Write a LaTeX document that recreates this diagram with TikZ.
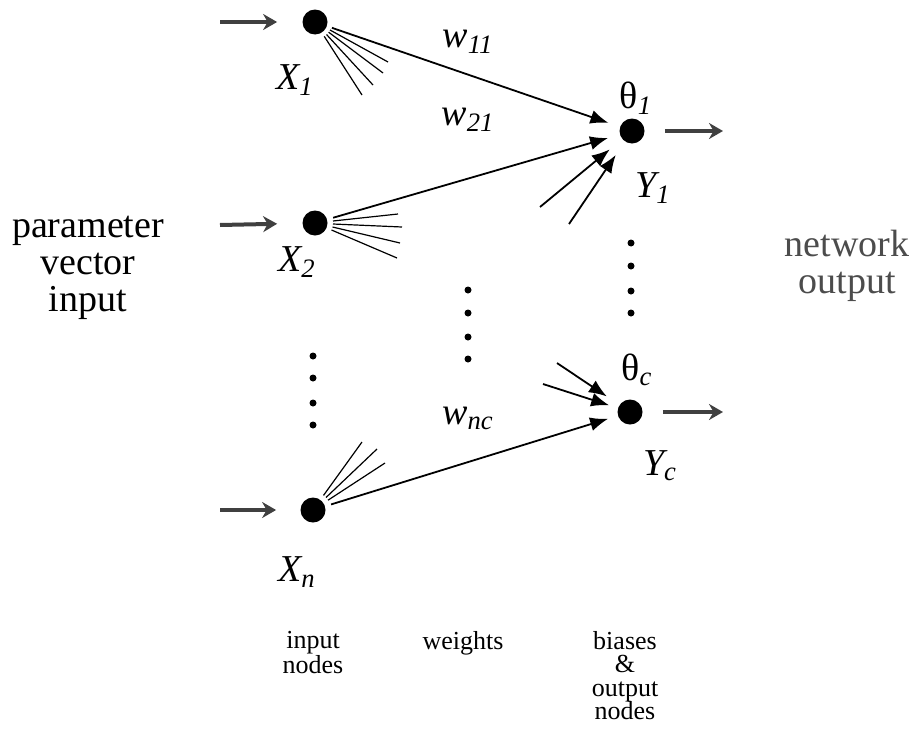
\documentclass[tikz,border=0pt]{standalone}
\usepackage{fontspec}
\setmainfont{Liberation Serif}
\usetikzlibrary{arrows.meta,calc}
\begin{document}
\begin{tikzpicture}[x=0.5pt,y=-0.5pt,
  neuron/.style={circle,fill=black,inner sep=0pt,minimum size=12.5pt},
  smalldot/.style={circle,fill=black,inner sep=0pt,minimum size=3.5pt},
  conn/.style={line width=0.9pt,-{Latex[length=9pt,width=7pt]}},
  ray/.style={line width=0.6pt},
  ioarrow/.style={line width=2pt,black!75,-{Stealth[length=7pt,width=8pt]}},
  biglabel/.style={font=\fontsize{19}{18.5}\selectfont,align=center},
  smalllabel/.style={font=\fontsize{13}{12.5}\selectfont,align=center},
  varlabel/.style={font=\fontsize{19}{19}\selectfont\itshape}]
\useasboundingbox (0,0) rectangle (914,744);
% nodes
\node[neuron] (x1) at (315,22) {};
\node[neuron] (x2) at (315,223) {};
\node[neuron] (xn) at (313,510) {};
\node[neuron] (y1) at (632,131) {};
\node[neuron] (yc) at (630,412) {};
% free ends
\coordinate (in1) at (220,22);
\coordinate (in2) at (220,225);
\coordinate (inn) at (220,510);
\coordinate (out1) at (723,131);
\coordinate (outc) at (723,412);
\coordinate (b1) at (540,207);
\coordinate (b2) at (569,224);
\coordinate (c1) at (543,384);
\coordinate (c2) at (557,363);
% input / output arrows
\draw[ioarrow,shorten >=12.5pt] (in1) -- (x1);
\draw[ioarrow,shorten >=12.5pt] (in2) -- (x2);
\draw[ioarrow,shorten >=12pt] (inn) -- (xn);
\draw[ioarrow,shorten <=10pt] (y1) -- (out1);
\draw[ioarrow,shorten <=10pt] (yc) -- (outc);
% weighted connections
\draw[conn,shorten <=2.5pt,shorten >=6pt] (x1) -- (y1);
\draw[conn,shorten <=3pt,shorten >=6pt] (x2) -- (y1);
\draw[conn,shorten <=3pt,shorten >=5pt] (xn) -- (yc);
\draw[conn,shorten >=8pt] (b1) -- (y1);
\draw[conn,shorten >=8pt] (b2) -- (y1);
\draw[conn,shorten >=4.5pt] (c1) -- (yc);
\draw[conn,shorten >=7.5pt] (c2) -- (yc);
% fan rays
\draw[ray] ($(x1)+(15,8)$) -- ($(x1)+(73,40)$);
\draw[ray] ($(x1)+(13.6,10.2)$) -- ($(x1)+(68,51)$);
\draw[ray] ($(x1)+(11.5,12.5)$) -- ($(x1)+(58,63)$);
\draw[ray] ($(x1)+(9.2,14.3)$) -- ($(x1)+(47,73)$);
\draw[ray] ($(x2)+(18,-2)$) -- ($(x2)+(83,-9)$);
\draw[ray] ($(x2)+(18,1)$) -- ($(x2)+(87,4)$);
\draw[ray] ($(x2)+(17.5,4)$) -- ($(x2)+(85,20)$);
\draw[ray] ($(x2)+(16.5,7)$) -- ($(x2)+(82,35)$);
\draw[ray] ($(xn)+(10.5,-14.6)$) -- ($(xn)+(49,-68)$);
\draw[ray] ($(xn)+(13,-12.5)$) -- ($(xn)+(64,-61)$);
\draw[ray] ($(xn)+(15,-9.8)$) -- ($(xn)+(72,-47)$);
% ellipsis dots
\foreach \i/\yy in {1/356,2/378,3/403,4/425} \node[smalldot] (dl\i) at (313,\yy) {};
\foreach \i/\yy in {1/290,2/313,3/337,4/359} \node[smalldot] (dm\i) at (468,\yy) {};
\foreach \i/\yy in {1/243,2/266,3/291,4/313} \node[smalldot] (dr\i) at (631,\yy) {};
% variable labels
\node[varlabel] (lx1) at (295,80) {X\textsubscript{1}};
\node[varlabel] (lx2) at (297,262) {X\textsubscript{2}};
\node[varlabel] (lxn) at (297,572) {X\textsubscript{n}};
\node[varlabel] (ly1) at (653,188) {Y\textsubscript{1}};
\node[varlabel] (lyc) at (660,466) {Y\textsubscript{c}};
\node[font=\fontsize{19}{19}\selectfont] (lt1) at (636,98) {θ\textsubscript{\itshape 1}};
\node[font=\fontsize{19}{19}\selectfont] (ltc) at (637,370) {θ\textsubscript{\itshape c}};
\node[varlabel] (lw11) at (468,42) {w\textsubscript{11}};
\node[varlabel] (lw21) at (468,120) {w\textsubscript{21}};
\node[varlabel] (lwnc) at (468,418) {w\textsubscript{nc}};
% text labels
\node[biglabel] (pvi) at (88,268) {parameter\\vector\\input};
\node[biglabel,text=black!70] (net) at (847,266) {network\\output};
\node[smalllabel,anchor=north] (inl) at (313,624) {input\\nodes};
\node[smalllabel,anchor=north] (wl) at (463,624) {weights};
\node[smalllabel,anchor=north,font=\fontsize{13}{11.8}\selectfont] (bl) at (625,624) {biases\\\&\\output\\nodes};
\end{tikzpicture}
\end{document}
